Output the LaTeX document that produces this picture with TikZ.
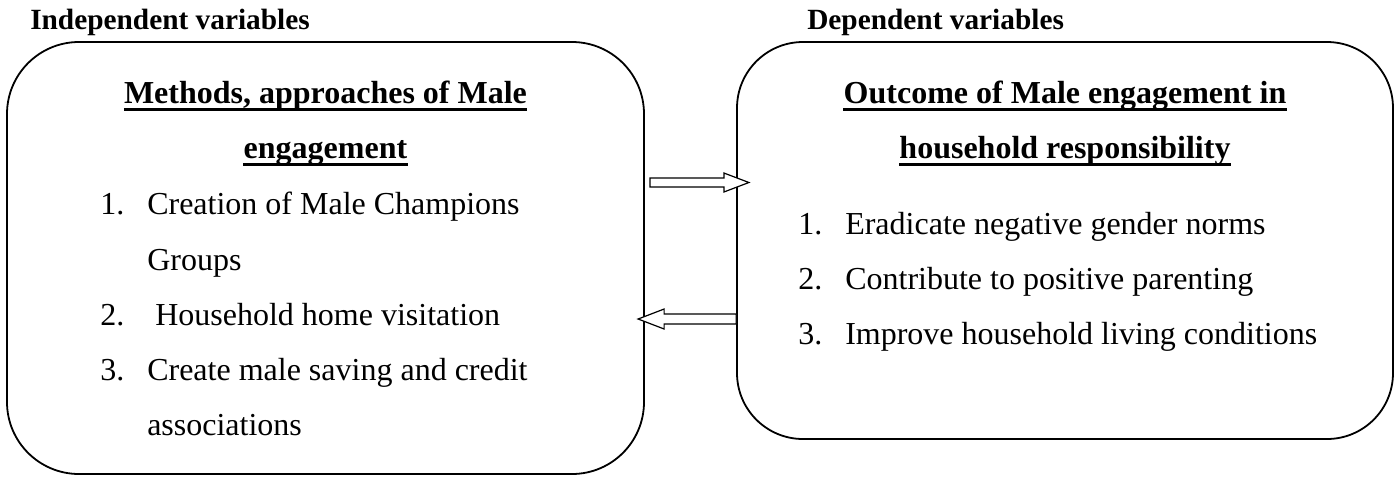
\documentclass[tikz,border=0pt]{standalone}
\usepackage{fontspec}
\setmainfont{Liberation Serif}
\usetikzlibrary{calc}
\begin{document}
\begin{tikzpicture}[x=0.75pt,y=-0.75pt,
  panel/.style={draw, line width=1.35pt, inner sep=0pt},
  toplabel/.style={anchor=base west, inner sep=0pt, font=\bfseries\fontsize{22}{26}\selectfont},
  heading/.style={anchor=base, inner sep=0pt, font=\bfseries\fontsize{24}{30}\selectfont},
  item/.style={anchor=base west, inner sep=0pt, font=\fontsize{24}{30}\selectfont},
  uline/.style={line width=2.25pt},
  blockarrow/.style={draw, line width=0.9pt, fill=white, line join=miter}]
\useasboundingbox (0,0) rectangle (1400,476);

% labels above the boxes
\node[toplabel] (indep) at (30,29) {Independent variables};
\node[toplabel] (dep) at (807,29) {Dependent variables};

% boxes
\node[panel, rounded corners=54pt, minimum width=477.75pt, minimum height=324pt] (L) at (325.5,258) {};
\node[panel, rounded corners=49.5pt, minimum width=492pt, minimum height=297.75pt] (R) at (1065,240.5) {};

% left heading
\node[heading] (lh1) at (325.5,103) {Methods, approaches of Male};
\node[heading] (lh2) at (325.5,158) {engagement};
\draw[uline] ([yshift=-4.5pt]lh1.base west) -- ([yshift=-4.5pt]lh1.base east);
\draw[uline] ([yshift=-4.5pt]lh2.base west) -- ([yshift=-4.5pt]lh2.base east);

% left items
\node[item] (ln1) at (100,214) {1.};
\node[item] (lt1) at (147,214) {Creation of Male Champions};
\node[item] (lt1b) at (147,270) {Groups};
\node[item] (ln2) at (100,325) {2.};
\node[item] (lt2) at (155,325) {Household home visitation};
\node[item] (ln3) at (100,380) {3.};
\node[item] (lt3) at (147,380) {Create male saving and credit};
\node[item] (lt3b) at (147,435) {associations};

% right heading
\node[heading] (rh1) at (1065,103) {Outcome of Male engagement in};
\node[heading] (rh2) at (1065,158) {household responsibility};
\draw[uline] ([yshift=-4.5pt]rh1.base west) -- ([yshift=-4.5pt]rh1.base east);
\draw[uline] ([yshift=-4.5pt]rh2.base west) -- ([yshift=-4.5pt]rh2.base east);

% right items
\node[item] (rn1) at (798,234) {1.};
\node[item] (rt1) at (845,234) {Eradicate negative gender norms};
\node[item] (rn2) at (798,289) {2.};
\node[item] (rt2) at (845,289) {Contribute to positive parenting};
\node[item] (rn3) at (798,344) {3.};
\node[item] (rt3) at (845,344) {Improve household living conditions};

% block arrows between the boxes
\coordinate (ra) at ($(L.east |- 0,182.5)+(5,0)$);
\draw[blockarrow] (ra) ++(0,-4.5) -- ++(74,0) -- ++(0,-5) -- ++(25,9.5) -- ++(-25,9.5) -- ++(0,-5) -- ++(-74,0) -- cycle;
\coordinate (la) at (R.west |- 0,319);
\draw[blockarrow] (la) ++(0,-5) -- ++(-72,0) -- ++(0,-5) -- ++(-26,10) -- ++(26,10) -- ++(0,-5) -- ++(72,0) -- cycle;
\end{tikzpicture}
\end{document}
